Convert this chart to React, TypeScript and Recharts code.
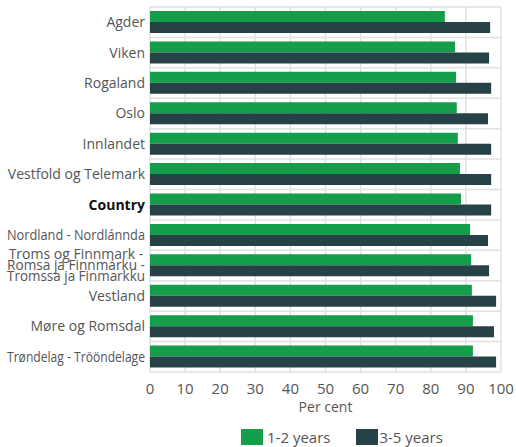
import React from 'react';
import {
  BarChart,
  Bar,
  XAxis,
  YAxis,
  CartesianGrid,
  Legend,
} from 'recharts';

// Regions, top to bottom
const regions: string[] = [
  'Agder',
  'Viken',
  'Rogaland',
  'Oslo',
  'Innlandet',
  'Vestfold og Telemark',
  'Country',
  'Nordland - Nordlánnda',
  'Troms og Finnmark - Romsa ja Finnmárku - Tromssa ja Finmarkku',
  'Vestland',
  'Møre og Romsdal',
  'Trøndelag - Trööndelage',
];

// Per cent of children in kindergarten
const age12: number[] = [84.0, 86.9, 87.2, 87.4, 87.7, 88.3, 88.6, 91.2, 91.5, 91.7, 92.0, 92.0];
const age35: number[] = [96.9, 96.6, 97.2, 96.3, 97.2, 97.2, 97.2, 96.3, 96.6, 98.6, 98.0, 98.6];

const xTicks: number[] = [0, 10, 20, 30, 40, 50, 60, 70, 80, 90, 100];

const GREEN = '#159e4a';
const DARK = '#274247';
const FONT = '"Open Sans", sans-serif';
const LABEL_MAX = 138;

const data = regions.map((region, i) => ({
  region,
  age12: age12[i],
  age35: age35[i],
}));

// measure label text so long ones can be squeezed into the axis width
let ctx: CanvasRenderingContext2D | null = null;
const measure = (s: string, weight: number) => {
  if (!ctx) ctx = document.createElement('canvas').getContext('2d');
  if (!ctx) return 0;
  ctx.font = `${weight} 14px "Open Sans"`;
  return ctx.measureText(s).width;
};

// Long names are broken at " - " onto several lines
const splitLabel = (name: string): string[] => {
  const parts = name.split(' - ');
  if (parts.length < 3) return [name];
  return parts.map((p, i) => (i < parts.length - 1 ? `${p} -` : p));
};

const RegionTick = (props: any) => {
  const { x, y, payload } = props;
  const name: string = payload.value;
  const lines = splitLabel(name);
  const bold = name === 'Country';
  const weight = bold ? 700 : 400;
  const fit = (s: string) =>
    measure(s, weight) > LABEL_MAX
      ? { textLength: LABEL_MAX, lengthAdjust: 'spacingAndGlyphs' as const }
      : {};
  if (lines.length > 1) {
    const step = 11;
    const start = -((lines.length - 1) * step) / 2;
    return (
      <g>
        {lines.map((line, i) => (
          <text
            key={i}
            x={x - 66}
            y={y + start + i * step}
            dy="0.35em"
            textAnchor="middle"
            fontSize={14}
            fontFamily={FONT}
            fill="#555"
            {...fit(line)}
          >
            {line}
          </text>
        ))}
      </g>
    );
  }
  return (
    <text
      x={x + 3}
      y={y}
      dy="0.35em"
      textAnchor="end"
      fontSize={14}
      fontFamily={FONT}
      fontWeight={weight}
      fill={bold ? '#111' : '#555'}
      {...fit(name)}
    >
      {name}
    </text>
  );
};

const LegendContent = () => (
  <div
    style={{
      display: 'flex',
      alignItems: 'center',
      paddingLeft: 241,
      fontFamily: FONT,
      fontSize: 15,
      color: '#555',
    }}
  >
    <span style={{ display: 'inline-block', width: 22, height: 16, background: GREEN }} />
    <span style={{ marginLeft: 4, marginRight: 26 }}>1-2 years</span>
    <span style={{ display: 'inline-block', width: 22, height: 16, background: DARK }} />
    <span style={{ marginLeft: 1 }}>3-5 years</span>
  </div>
);

// Horizontal grid lines sit between the regions, not on them
const bandLines = ({ offset }: any) => {
  const n = regions.length;
  return Array.from({ length: n + 1 }, (_, i) => offset.top + (i * offset.height) / n);
};

export default function App() {
  return (
    <div style={{ position: 'absolute', left: 0, top: 0, background: '#fff' }}>
      <BarChart
        width={516}
        height={447}
        data={data}
        layout="vertical"
        margin={{ top: 7, right: 15, left: 0, bottom: 0 }}
        barGap={0}
      >
        <CartesianGrid
          stroke="#e0e0e0"
          strokeWidth={1.5}
          horizontalCoordinatesGenerator={bandLines}
        />
        <XAxis
          type="number"
          domain={[0, 100]}
          ticks={xTicks}
          interval={0}
          axisLine={false}
          tickLine={false}
          tickMargin={5}
          height={45}
          tick={{ fill: '#555', fontSize: 15, fontFamily: FONT }}
          label={{
            value: 'Per cent',
            position: 'insideBottom',
            offset: 5,
            fill: '#555',
            fontSize: 14,
            fontFamily: FONT,
          }}
        />
        <YAxis
          type="category"
          dataKey="region"
          width={150}
          interval={0}
          axisLine={false}
          tickLine={false}
          tick={<RegionTick />}
        />
        <Legend
          verticalAlign="bottom"
          height={30}
          wrapperStyle={{ bottom: -10 }}
          content={<LegendContent />}
        />
        <Bar dataKey="age12" name="1-2 years" fill={GREEN} barSize={11} isAnimationActive={false} />
        <Bar dataKey="age35" name="3-5 years" fill={DARK} barSize={11} isAnimationActive={false} />
      </BarChart>
    </div>
  );
}
